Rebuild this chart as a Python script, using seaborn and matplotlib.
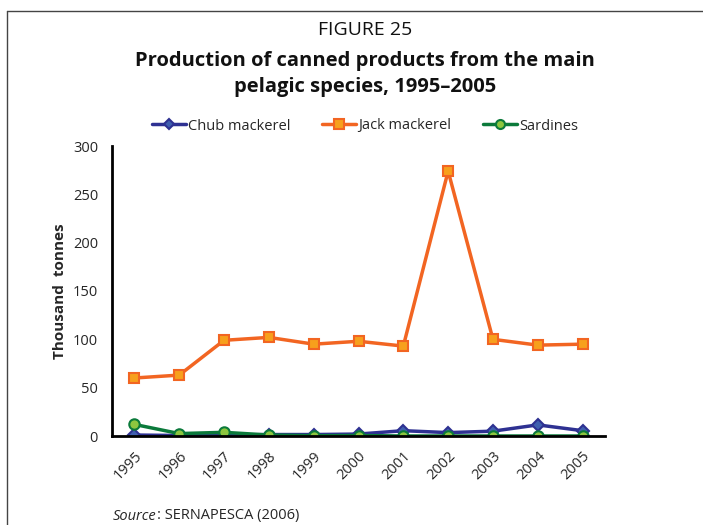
import matplotlib
matplotlib.use("Agg")
import matplotlib.pyplot as plt
from matplotlib.lines import Line2D
import seaborn as sns
import pandas as pd

years = ["1995", "1996", "1997", "1998", "1999", "2000", "2001", "2002", "2003", "2004", "2005"]
chub_mackerel = [1, 0.5, 1, 1.5, 1.5, 2, 5.5, 3.5, 5, 11.5, 5.5]
jack_mackerel = [60, 63, 99, 102, 95, 98, 93, 274, 100, 94, 95]
sardines = [12, 2.5, 3.8, 1, 0.3, 0.5, 0, 0, 0, 0, 0]

sns.set_theme(style="white")
plt.rcParams['font.family'] = ['Open Sans', 'DejaVu Sans']

fig = plt.figure(figsize=(7.03, 5.25), dpi=100)
ax = fig.add_axes([112/703, 1-436/525, (605-112)/703, (436-146)/525])

x = list(range(len(years)))
series = [
    ("Chub mackerel", chub_mackerel, "#2E3192", "D", "#3F5FAF", 6),
    ("Jack mackerel", jack_mackerel, "#F26522", "s", "#F7A01C", 7.5),
    ("Sardines", sardines, "#0B7A3B", "o", "#8DC63F", 7.5),
]
handles = []
for name, vals, col, mk, fc, ms in series:
    df = pd.DataFrame({"x": x, "y": vals})
    sns.lineplot(data=df, x="x", y="y", ax=ax, color=col, linewidth=2.5,
                 marker=mk, markersize=ms, markerfacecolor=fc,
                 markeredgecolor=col, markeredgewidth=1.5, label=None)
    handles.append(Line2D([0], [0], color=col, linewidth=2.5, marker=mk,
                          markersize=ms - 1, markerfacecolor=fc,
                          markeredgecolor=col, markeredgewidth=1.5, label=name))

ax.set_xlim(-0.5, len(years) - 0.5)
ax.set_ylim(0, 300)
ax.set_yticks(range(0, 301, 50))
ax.set_xticks([i - 0.5 for i in range(len(years) + 1)])
ax.set_xticklabels([])
ax.set_xticks(x, minor=True)
ax.set_xticklabels(years, minor=True, rotation=45, ha="right", rotation_mode="anchor",
                   fontsize=10.5)
ax.tick_params(axis="x", which="major", direction="inout", length=8, width=1.5, color="black")
ax.tick_params(axis="x", which="minor", length=0, pad=9)
ax.tick_params(axis="y", direction="out", length=6, width=1.5, color="black",
               labelsize=10.5, pad=4)
ax.set_xlabel("")
ax.set_ylabel("Thousand  tonnes", fontsize=11, fontweight="bold", labelpad=4)

for s in ["top", "right"]:
    ax.spines[s].set_visible(False)
for s in ["left", "bottom"]:
    ax.spines[s].set_color("black")
    ax.spines[s].set_linewidth(2)

ax.legend(handles=handles, loc="center", bbox_to_anchor=(365/703, 1-126/525),
          bbox_transform=fig.transFigure, ncol=3, frameon=False, fontsize=10.5,
          handlelength=2.3, handletextpad=0.15, columnspacing=2.2)

fig.text(365/703, 1-30/525, "FIGURE 25", ha="center", va="center", fontsize=14, color="#111111")
fig.text(365/703, 1-74/525, "Production of canned products from the main\npelagic species, 1995\u20132005",
         ha="center", va="center", fontsize=14.5, fontweight="bold", linespacing=1.45,
         color="#111111")
src = fig.text(113/703, 1-516/525, "Source", style="italic", ha="left", va="center", fontsize=10.5)
fig.canvas.draw()
bb = src.get_window_extent()
fig.text(bb.x1 / (7.03 * 100), 1-516/525, ": SERNAPESCA (2006)", ha="left", va="center",
         fontsize=10.5)

fig.add_artist(Line2D([7/703, 7/703], [0, 1-11/525], transform=fig.transFigure,
                      color="#444444", linewidth=1))
fig.add_artist(Line2D([7/703, 1], [1-11/525, 1-11/525], transform=fig.transFigure,
                      color="#444444", linewidth=1))

fig.savefig("out.png", dpi=100)
